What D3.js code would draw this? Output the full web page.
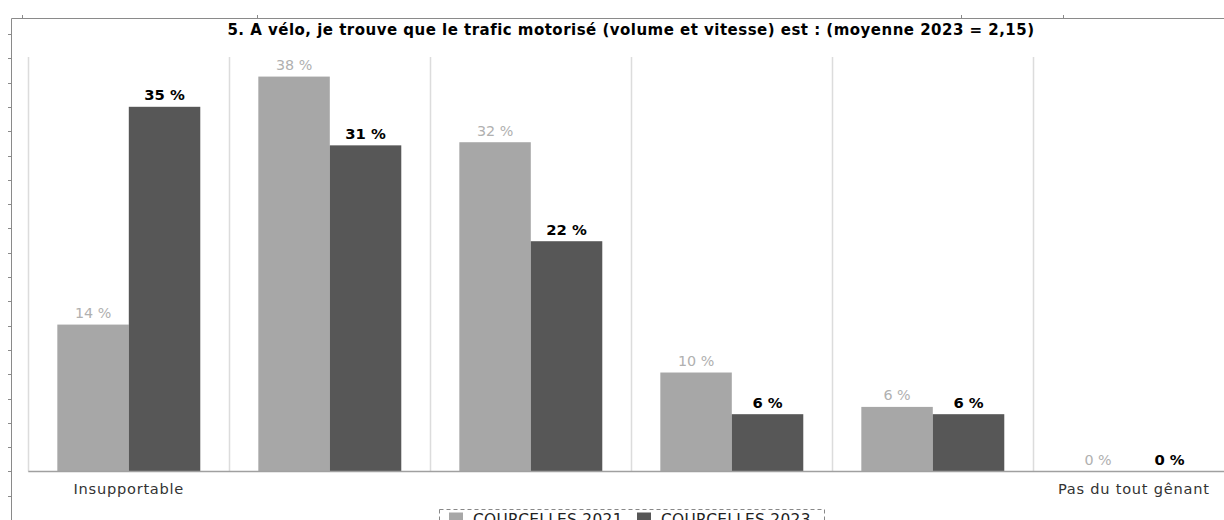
<!DOCTYPE html>
<html><head><meta charset="utf-8">
<script src="https://cdn.jsdelivr.net/npm/d3@7"></script>
<style>
body{margin:0;background:#fff;overflow:hidden}
svg{display:block}
text{font-family:"DejaVu Sans",Verdana,sans-serif}
</style></head>
<body><svg id="c" width="1224" height="520"></svg>
<script>
const categories = ["Insupportable","2","3","4","5","Pas du tout gênant"];
const categoryLabels = ["Insupportable","","","","","Pas du tout gênant"];
const series = ["COURCELLES 2021","COURCELLES 2023"];
const values2021 = [14.1, 37.9, 31.6, 9.5, 6.2, 0];
const values2023 = [35.0, 31.3, 22.1, 5.5, 5.5, 0];
const title = "5. A vélo, je trouve que le trafic motorisé (volume et vitesse) est : (moyenne 2023 = 2,15)";
const colors = ["#a7a7a7","#575757"];
const labelColors = ["#b0b0b0","#000"];

const svg = d3.select("#c");
const baseY = 471.5;
const x = d3.scaleBand().domain(categories).range([28.3, 1234.3]).paddingInner(0).paddingOuter(0);
const xi = d3.scaleBand().domain(series).range([0, x.bandwidth()]).paddingInner(0).paddingOuter(0.406);
const y = d3.scaleLinear().domain([0, 40]).range([baseY, 54.7]);

// frame decoration
const frame = svg.append("g").attr("stroke","#8a8a8a").attr("fill","none");
frame.append("line").attr("x1",11.5).attr("x2",1224).attr("y1",18.5).attr("y2",18.5);
frame.append("line").attr("x1",11.5).attr("x2",11.5).attr("y1",18.5).attr("y2",520);
[22.5,257.5,961.5,1063.5].forEach(t=>frame.append("line").attr("x1",t).attr("x2",t).attr("y1",15).attr("y2",18.5));
d3.range(34,520,24.3).forEach(t=>frame.append("line").attr("x1",8).attr("x2",11.5).attr("y1",Math.round(t)+0.5).attr("y2",Math.round(t)+0.5));

// gridlines at category boundaries
svg.append("g").selectAll("line").data(categories).join("line")
  .attr("x1",d=>Math.round(x(d))+0.5).attr("x2",d=>Math.round(x(d))+0.5)
  .attr("y1",57).attr("y2",baseY).attr("stroke","#dcdcdc").attr("stroke-width",1.5);

// title
svg.append("text").attr("x",631).attr("y",35).attr("text-anchor","middle")
  .attr("font-weight","bold").attr("font-size",15).attr("letter-spacing",0.48)
  .attr("fill","#000").text(title);

// bars
const data = categories.map((c,i)=>({c, v:[values2021[i], values2023[i]]}));
const groups = svg.append("g").selectAll("g").data(data).join("g")
  .attr("transform",d=>`translate(${x(d.c)},0)`);
groups.selectAll("rect").data(d=>d.v.map((v,j)=>({v,s:series[j],j}))).join("rect")
  .attr("x",d=>xi(d.s)).attr("width",xi.bandwidth())
  .attr("y",d=>y(d.v)).attr("height",d=>baseY-y(d.v))
  .attr("fill",d=>colors[d.j]);
groups.selectAll("text").data(d=>d.v.map((v,j)=>({v,s:series[j],j}))).join("text")
  .attr("x",d=>xi(d.s)+xi.bandwidth()/2).attr("y",d=>y(d.v)-6.5)
  .attr("text-anchor","middle")
  .attr("font-size",d=>d.j? 14.8:14.3)
  .attr("font-weight",d=>d.j?"bold":"normal")
  .attr("fill",d=>labelColors[d.j])
  .text(d=>Math.round(d.v)+" %");

// axis baseline
const xAxis = d3.axisBottom(x).tickSize(0).tickFormat((d,i)=>categoryLabels[i]);
const ax = svg.append("g").attr("transform",`translate(0,${baseY})`).call(xAxis);
ax.select(".domain").attr("stroke","#a0a0a0").attr("stroke-width",1.5).attr("d",`M28.3,0H1224`);
ax.selectAll("text").attr("font-size",14.6).attr("letter-spacing",0.75).attr("fill","#333").attr("dy",0).attr("y",22)
  .style("font-family","DejaVu Sans");

// legend
const lg = svg.append("g");
lg.append("rect").attr("x",439.5).attr("y",509.5).attr("width",385).attr("height",30)
  .attr("fill","none").attr("stroke","#888").attr("stroke-dasharray","4,3");
const legX = [449, 637];
series.forEach((s,i)=>{
  lg.append("rect").attr("x",legX[i]).attr("y",512.5).attr("width",14).attr("height",14).attr("fill",colors[i]);
  lg.append("text").attr("x",legX[i]+24).attr("y",524.5).attr("font-size",15.4).attr("letter-spacing",0.3).attr("fill","#222").text(s);
});
</script></body></html>
